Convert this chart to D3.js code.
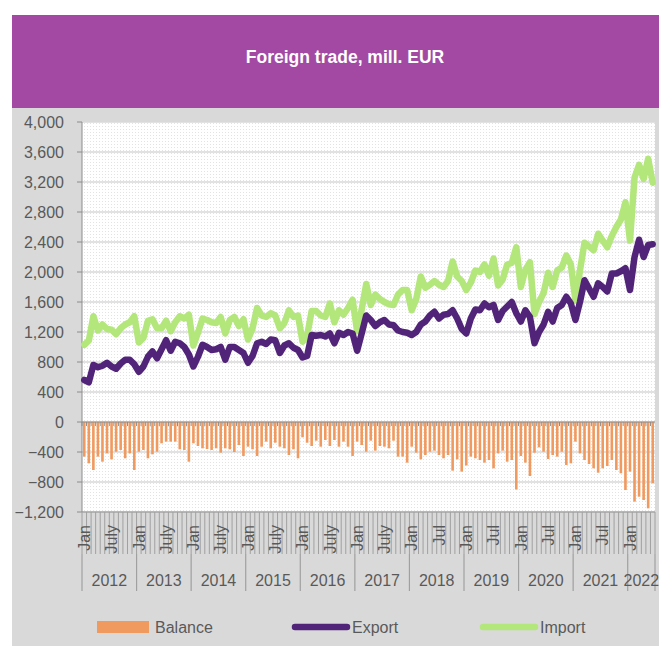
<!DOCTYPE html>
<html lang="en">
<head>
<meta charset="UTF-8">
<title>Foreign trade, mill. EUR</title>
<script src="https://d3js.org/d3.v7.min.js"></script>
<style>
    body {
        margin: 0;
        background: #ffffff;
        font-family: "Liberation Sans", Arial, sans-serif;
    }
    svg { display: block; }
    .lbl { fill: #595959; font-size: 16px; }
</style>
</head>
<body>
<svg width="659" height="646"></svg>
<script>
    // Jan 2012 .. Jun 2022, monthly
    const years = [2012, 2013, 2014, 2015, 2016, 2017, 2018, 2019, 2020, 2021, 2022];
    const monthsInYear = [12, 12, 12, 12, 12, 12, 12, 12, 12, 12, 6];
    const julyLabels = ["July", "July", "July", "July", "July", "July", "Jul", "Jul", "Jul", "Jul", ""];

    const exportVals = [
        560, 530, 760, 730, 750, 790, 740, 710, 780, 830, 830, 770,
        670, 740, 870, 940, 850, 970, 1090, 950, 1070, 1050, 1000, 900,
        740, 870, 1030, 1000, 960, 970, 1000, 830, 1000, 1000, 960, 920,
        790, 880, 1050, 1070, 1040, 1100, 1090, 920, 1020, 1050, 990, 960,
        860, 880, 1160, 1150, 1160, 1140, 1180, 1050, 1190, 1160, 1200, 1180,
        950, 1180, 1420, 1360, 1280, 1330, 1360, 1300, 1290, 1220, 1200, 1190,
        1160, 1200, 1300, 1340, 1420, 1470, 1380, 1430, 1440, 1490, 1380, 1240,
        1180, 1380, 1500, 1490, 1580, 1530, 1560, 1360, 1480, 1540, 1600, 1450,
        1340, 1490, 1400, 1050, 1200, 1300, 1470, 1340, 1520, 1560, 1670, 1580,
        1360, 1600, 1890, 1780, 1670, 1850, 1800, 1740, 1980, 1980, 2010, 2050,
        1760, 2200, 2430, 2200, 2360, 2370
    ];

    const importVals = [
        1030, 1085, 1410, 1220, 1300, 1240, 1230, 1170, 1250, 1300, 1330, 1410,
        1060, 1120, 1350, 1370, 1250, 1250, 1350, 1210, 1330, 1410, 1380, 1430,
        1020, 1190, 1380, 1360, 1330, 1320, 1400, 1180, 1360, 1400, 1280, 1370,
        1100, 1250, 1520, 1420, 1400, 1450, 1420, 1250, 1320, 1490, 1400, 1420,
        1070, 1150, 1480, 1480, 1420, 1400, 1580, 1330, 1490, 1430, 1520, 1630,
        1210, 1500, 1840, 1560, 1700, 1640, 1600, 1570, 1560, 1700, 1760, 1760,
        1490, 1640, 1940, 1790, 1830, 1880, 1830, 1800, 1880, 2140, 1940, 1880,
        1760, 1860, 2020, 2000, 2100, 1950, 2180, 1820, 1900, 2100, 2120, 2330,
        1800, 2030, 2130, 1440, 1600, 1720, 1990, 1800, 2020, 2060, 2220, 2100,
        1620, 2020, 2390, 2340, 2290, 2510, 2420, 2330, 2480, 2600, 2700, 2930,
        2420, 3260, 3430, 3240, 3510, 3190
    ];

    const balanceVals = [
        -462, -551, -640, -462, -529, -418, -498, -396, -373, -484, -418, -640,
        -396, -373, -484, -431, -396, -284, -262, -262, -262, -364, -373, -529,
        -284, -320, -351, -360, -373, -351, -409, -351, -364, -400, -307, -453,
        -329, -364, -453, -329, -262, -351, -276, -329, -351, -440, -364, -484,
        -204, -276, -320, -249, -329, -240, -320, -240, -329, -262, -329, -453,
        -262, -307, -396, -249, -382, -320, -329, -351, -249, -462, -462, -542,
        -329, -409, -498, -440, -396, -382, -440, -484, -440, -649, -498, -662,
        -580, -462, -484, -507, -542, -507, -618, -418, -382, -529, -507, -900,
        -453, -542, -720, -409, -338, -396, -493, -440, -462, -396, -573, -551,
        -262, -418, -507, -560, -618, -676, -618, -587, -507, -640, -684, -907,
        -662, -1062, -996, -1040, -1151, -818
    ];

    const yTicks = [-1200, -800, -400, 0, 400, 800, 1200, 1600, 2000, 2400, 2800, 3200, 3600, 4000];

    const colors = {
        band: "#a349a4",
        bg: "#d9d9d9",
        balance: "#f19a5f",
        export: "#522479",
        import: "#b3e67b"
    };

    // month list
    const months = [];
    years.forEach((yr, yi) => {
        for (let m = 0; m < monthsInYear[yi]; m++) months.push({year: yr, m: m, yi: yi});
    });
    months.forEach((d, i) => {
        d.i = i;
        d.exp = exportVals[i];
        d.imp = importVals[i];
        d.bal = balanceVals[i];
    });

    const svg = d3.select("svg");
    const plot = {left: 82, right: 655, top: 122, bottom: 512};

    // frame
    svg.append("rect").attr("x", 12).attr("y", 15).attr("width", 647).attr("height", 93).attr("fill", colors.band);
    svg.append("rect").attr("x", 12).attr("y", 108).attr("width", 647).attr("height", 538).attr("fill", colors.bg);
    svg.append("text")
        .attr("x", 345).attr("y", 63)
        .attr("text-anchor", "middle")
        .attr("fill", "#ffffff")
        .style("font-size", "17.5px")
        .style("font-weight", "bold")
        .text("Foreign trade, mill. EUR");

    const x = d3.scaleBand().domain(months.map(d => d.i)).range([plot.left, plot.right]);
    const y = d3.scaleLinear().domain([-1200, 4000]).range([plot.bottom, plot.top]);
    const bw = x.bandwidth();

    // plot area with dotted texture
    const defs = svg.append("defs");
    const pat = defs.append("pattern").attr("id", "dots")
        .attr("patternUnits", "userSpaceOnUse").attr("width", 3).attr("height", 3);
    pat.append("rect").attr("width", 3).attr("height", 3).attr("fill", "#ffffff");
    pat.append("rect").attr("width", 1).attr("height", 1).attr("fill", "#e3e3e3");

    svg.append("rect")
        .attr("x", plot.left).attr("y", plot.top)
        .attr("width", plot.right - plot.left).attr("height", plot.bottom - plot.top)
        .attr("fill", "url(#dots)");

    // major gridlines
    svg.append("g").selectAll("line").data(yTicks).join("line")
        .attr("x1", plot.left).attr("x2", plot.right)
        .attr("y1", d => y(d)).attr("y2", d => y(d))
        .attr("stroke", "#d9d9d9").attr("stroke-width", 1.5);

    // y axis
    const yAxis = svg.append("g");
    yAxis.append("line")
        .attr("x1", plot.left).attr("x2", plot.left)
        .attr("y1", plot.top).attr("y2", plot.bottom)
        .attr("stroke", "#8c8c8c");
    yAxis.selectAll(".tk").data(yTicks).join("line")
        .attr("x1", plot.left - 5).attr("x2", plot.left)
        .attr("y1", d => y(d)).attr("y2", d => y(d))
        .attr("stroke", "#8c8c8c");
    yAxis.selectAll("text").data(yTicks).join("text")
        .attr("class", "lbl")
        .attr("x", 64).attr("y", d => y(d))
        .attr("dy", "0.36em")
        .attr("text-anchor", "end")
        .text(d => d3.format(",")(d));

    // balance bars
    const barW = 2.6;
    svg.append("g").selectAll("rect").data(months).join("rect")
        .attr("x", d => x(d.i) + bw / 2 - barW / 2)
        .attr("width", barW)
        .attr("y", d => y(Math.max(0, d.bal)))
        .attr("height", d => Math.abs(y(d.bal) - y(0)))
        .attr("fill", colors.balance);

    // zero axis with month ticks
    const zeroAxis = svg.append("g");
    zeroAxis.append("line")
        .attr("x1", plot.left).attr("x2", plot.right)
        .attr("y1", y(0)).attr("y2", y(0))
        .attr("stroke", "#8c8c8c").attr("stroke-width", 1.2);
    zeroAxis.selectAll(".tk").data(months).join("line")
        .attr("x1", d => x(d.i)).attr("x2", d => x(d.i))
        .attr("y1", y(0)).attr("y2", y(0) + 4)
        .attr("stroke", "#8c8c8c");

    // lines
    const lineGen = key => d3.line()
        .x(d => x(d.i) + bw / 2)
        .y(d => y(d[key]))
        .curve(d3.curveLinear);

    svg.append("path").datum(months)
        .attr("d", lineGen("imp"))
        .attr("fill", "none").attr("stroke", colors.import)
        .attr("stroke-width", 6.5).attr("stroke-linejoin", "round").attr("stroke-linecap", "round");

    svg.append("path").datum(months)
        .attr("d", lineGen("exp"))
        .attr("fill", "none").attr("stroke", colors.export)
        .attr("stroke-width", 6.5).attr("stroke-linejoin", "round").attr("stroke-linecap", "round");

    // category axis at the bottom
    const xAxis = svg.append("g");
    xAxis.append("line")
        .attr("x1", plot.left).attr("x2", plot.right)
        .attr("y1", plot.bottom).attr("y2", plot.bottom)
        .attr("stroke", "#8c8c8c");
    const bounds = months.map(d => x(d.i)).concat([plot.right]);
    xAxis.selectAll(".mt").data(bounds).join("line")
        .attr("x1", d => d).attr("x2", d => d)
        .attr("y1", plot.bottom).attr("y2", 554)
        .attr("stroke", "#a0a0a0").attr("stroke-width", 1);

    // year separators
    const yearStart = years.map((yr, yi) => months.find(d => d.yi === yi).i);
    const yearEdges = yearStart.map(i => x(i)).concat([plot.right]);
    xAxis.selectAll(".ys").data(yearEdges).join("line")
        .attr("x1", d => d).attr("x2", d => d)
        .attr("y1", 554).attr("y2", 591)
        .attr("stroke", "#a0a0a0").attr("stroke-width", 1.2);

    xAxis.selectAll(".yl").data(years).join("text")
        .attr("class", "lbl")
        .attr("x", (d, i) => (yearEdges[i] + yearEdges[i + 1]) / 2)
        .attr("y", 586)
        .attr("text-anchor", "middle")
        .text(d => d);

    // month labels (Jan / July)
    const monthLabels = months
        .filter(d => d.m === 0 || (d.m === 6 && julyLabels[d.yi]))
        .map(d => ({i: d.i, text: d.m === 0 ? "Jan" : julyLabels[d.yi]}));

    xAxis.selectAll(".ml").data(monthLabels).join("text")
        .attr("class", "lbl")
        .attr("transform", d => `translate(${x(d.i) + bw / 2},525) rotate(-90)`)
        .attr("dy", "0.36em")
        .attr("text-anchor", "end")
        .text(d => d.text);

    // legend
    const legend = svg.append("g");
    legend.append("rect").attr("x", 97).attr("y", 621).attr("width", 52).attr("height", 12).attr("fill", colors.balance);
    legend.append("text").attr("class", "lbl").attr("x", 155).attr("y", 633).text("Balance");
    legend.append("line").attr("x1", 295).attr("x2", 347).attr("y1", 627).attr("y2", 627)
        .attr("stroke", colors.export).attr("stroke-width", 6.5).attr("stroke-linecap", "round");
    legend.append("text").attr("class", "lbl").attr("x", 352).attr("y", 633).text("Export");
    legend.append("line").attr("x1", 483).attr("x2", 535).attr("y1", 627).attr("y2", 627)
        .attr("stroke", colors.import).attr("stroke-width", 6.5).attr("stroke-linecap", "round");
    legend.append("text").attr("class", "lbl").attr("x", 540).attr("y", 633).text("Import");
</script>
</body>
</html>
